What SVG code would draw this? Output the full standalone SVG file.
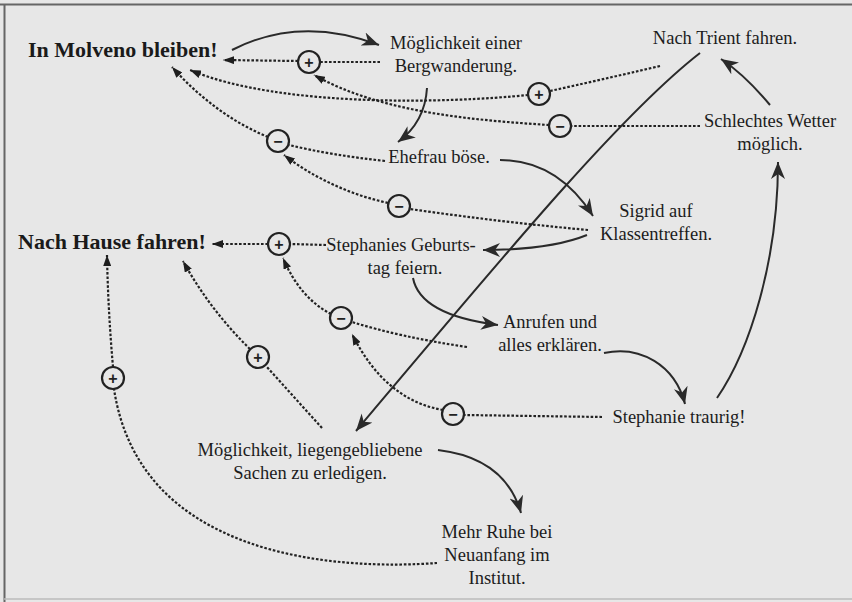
<svg xmlns="http://www.w3.org/2000/svg" width="852" height="602" viewBox="0 0 852 602">
<defs>
<style>
.t{font-family:"Liberation Serif","Times New Roman",serif;font-size:18.5px;fill:#1c1c1c;text-anchor:middle}
.b{font-family:"Liberation Serif","Times New Roman",serif;font-size:22px;font-weight:bold;fill:#1a1a1a}
.s{fill:none;stroke:#2a2a2a;stroke-width:2}
.d{fill:none;stroke:#222;stroke-width:2.2;stroke-dasharray:2.6 1.8}
.sig circle{fill:#e7e7e7;stroke:#222;stroke-width:2.2}
.sig text{font-family:"Liberation Sans",Arial,sans-serif;font-size:16px;font-weight:bold;fill:#222;text-anchor:middle}
</style>
<marker id="sa" markerUnits="userSpaceOnUse" markerWidth="18" markerHeight="15" viewBox="0 0 18 15" refX="17" refY="7.5" orient="auto"><path d="M0,0.5 L17,7.5 L0,14.5 L5,7.5 z" fill="#2a2a2a"/></marker>
<marker id="da" markerUnits="userSpaceOnUse" markerWidth="11" markerHeight="8" viewBox="0 0 11 8" refX="11" refY="4" orient="auto"><path d="M0,0 L11,4 L0,8 z" fill="#1e1e1e"/></marker>
</defs>
<rect x="0" y="0" width="852" height="602" fill="#e7e7e7"/>
<path d="M0,4.5 H852 M4.5,4 V602" stroke="#666" stroke-width="2" fill="none"/>
<path d="M4,599 H852" stroke="#bbb" stroke-width="1.5" fill="none"/>

<g id="connectors">
<!-- solid causal links -->
<path class="s" marker-end="url(#sa)" d="M232,50 Q300,15 379,45"/>
<path class="s" marker-end="url(#sa)" d="M427,88 Q425,122 398,142"/>
<path class="s" marker-end="url(#sa)" d="M500,160 C540,160 570,180 593,216"/>
<path class="s" marker-end="url(#sa)" d="M700,53 C620,115 500,260 356,431"/>
<path class="s" marker-end="url(#sa)" d="M587,235 Q550,250 483,250"/>
<path class="s" marker-end="url(#sa)" d="M413,278 Q420,315 498,325"/>
<path class="s" marker-end="url(#sa)" d="M604,353 C640,345 675,365 685,404"/>
<path class="s" marker-end="url(#sa)" d="M717,398 C750,350 778,260 778,162"/>
<path class="s" marker-end="url(#sa)" d="M770,105 Q745,75 721,59"/>
<path class="s" marker-end="url(#sa)" d="M438,450 C480,455 510,475 521,513"/>
<!-- dotted influence links -->
<path class="d" d="M380,62 L319,62"/>
<path class="d" marker-end="url(#da)" d="M298,61 L223,60"/>
<path class="d" d="M660,66 Q600,80 550,91"/>
<path class="d" marker-end="url(#da)" d="M528,95 C450,103 280,108 190,70"/>
<path class="d" d="M700,126 L571,126"/>
<path class="d" marker-end="url(#da)" d="M549,125 C470,120 380,112 314,75"/>
<path class="d" d="M385,161 Q330,155 289,145"/>
<path class="d" marker-end="url(#da)" d="M268,137 Q215,115 172,67"/>
<path class="d" d="M588,230 Q500,222 410,209"/>
<path class="d" marker-end="url(#da)" d="M388,203 Q330,190 284,155"/>
<path class="d" d="M326,245 L290,244"/>
<path class="d" marker-end="url(#da)" d="M268,244 L212,244"/>
<path class="d" d="M467,347 Q400,337 352,322"/>
<path class="d" marker-end="url(#da)" d="M331,314 Q300,298 283,258"/>
<path class="d" d="M322,428 L266,366"/>
<path class="d" marker-end="url(#da)" d="M250,349 Q210,310 183,261"/>
<path class="d" d="M437,563 C340,570 140,560 114,389"/>
<path class="d" marker-end="url(#da)" d="M113,367 Q108,310 107,255"/>
<path class="d" d="M602,417 L464,415"/>
<path class="d" marker-end="url(#da)" d="M443,410 Q385,400 352,334"/>
</g>

<g id="signs" class="sig">
<g id="sign1"><circle cx="309" cy="62" r="11"/><text x="309" y="67.7">+</text></g>
<g id="sign2"><circle cx="539" cy="94" r="11"/><text x="539" y="99.7">+</text></g>
<g id="sign3"><circle cx="560" cy="126" r="11"/><text x="560" y="131.7">−</text></g>
<g id="sign4"><circle cx="278" cy="141" r="11"/><text x="278" y="146.7">−</text></g>
<g id="sign5"><circle cx="399" cy="206" r="11"/><text x="399" y="211.7">−</text></g>
<g id="sign6"><circle cx="279" cy="244" r="11"/><text x="279" y="249.7">+</text></g>
<g id="sign7"><circle cx="341" cy="318" r="11"/><text x="341" y="323.7">−</text></g>
<g id="sign8"><circle cx="258" cy="357" r="11"/><text x="258" y="362.7">+</text></g>
<g id="sign9"><circle cx="113" cy="378" r="11"/><text x="113" y="383.7">+</text></g>
<g id="sign10"><circle cx="453" cy="414" r="11"/><text x="453" y="419.7">−</text></g>
</g>

<g id="molveno"><text class="b" x="28" y="57">In Molveno bleiben!</text></g>
<g id="hause"><text class="b" x="18" y="249">Nach Hause fahren!</text></g>
<g id="bergwanderung"><text class="t" x="456" y="49">Möglichkeit einer</text><text class="t" x="456" y="72">Bergwanderung.</text></g>
<g id="trient"><text class="t" x="725" y="44">Nach Trient fahren.</text></g>
<g id="wetter"><text class="t" x="770" y="127">Schlechtes Wetter</text><text class="t" x="770" y="150">möglich.</text></g>
<g id="ehefrau"><text class="t" x="439" y="163">Ehefrau böse.</text></g>
<g id="sigrid"><text class="t" x="656" y="217">Sigrid auf</text><text class="t" x="656" y="240">Klassentreffen.</text></g>
<g id="geburtstag"><text class="t" x="401" y="251">Stephanies Geburts-</text><text class="t" x="405" y="274">tag feiern.</text></g>
<g id="anrufen"><text class="t" x="550" y="328">Anrufen und</text><text class="t" x="550" y="351">alles erklären.</text></g>
<g id="traurig"><text class="t" x="679" y="423">Stephanie traurig!</text></g>
<g id="sachen"><text class="t" x="310" y="456">Möglichkeit, liegengebliebene</text><text class="t" x="310" y="479">Sachen zu erledigen.</text></g>
<g id="ruhe"><text class="t" x="497" y="538">Mehr Ruhe bei</text><text class="t" x="497" y="561">Neuanfang im</text><text class="t" x="497" y="584">Institut.</text></g>
</svg>
